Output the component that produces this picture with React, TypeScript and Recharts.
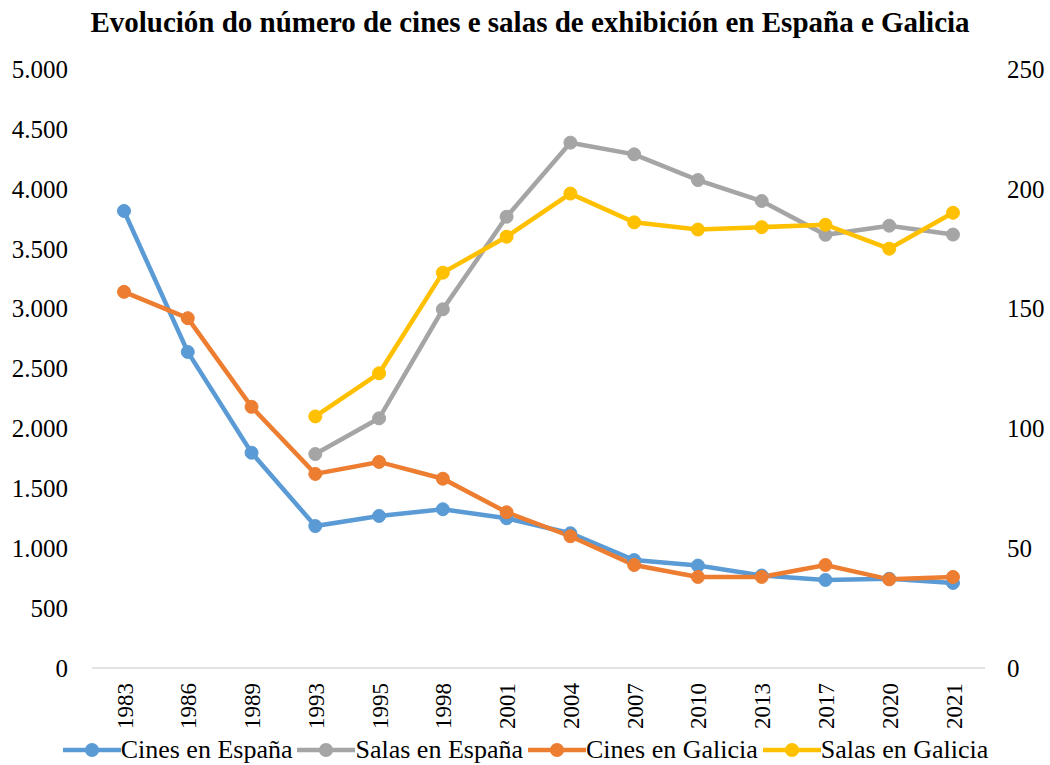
import React from 'react';
import { LineChart, Line, XAxis, YAxis, Legend } from 'recharts';

const years = ['1983', '1986', '1989', '1993', '1995', '1998', '2001', '2004', '2007', '2010', '2013', '2017', '2020', '2021'];
const cinesEspana = [3815, 2638, 1797, 1185, 1269, 1325, 1250, 1125, 901, 855, 772, 735, 745, 710];
const salasEspana = [null, null, null, 1786, 2084, 2994, 3767, 4385, 4288, 4073, 3898, 3616, 3692, 3618];
const cinesGalicia = [157, 146, 109, 81, 86, 79, 65, 55, 43, 38, 38, 43, 37, 38];
const salasGalicia = [null, null, null, 105, 123, 165, 180, 198, 186, 183, 184, 185, 175, 190];

const leftTicks = [0, 500, 1000, 1500, 2000, 2500, 3000, 3500, 4000, 4500, 5000];
const rightTicks = [0, 50, 100, 150, 200, 250];

const seriesInfo = [
  { key: 'cinesEspana', name: 'Cines en España', color: '#5B9BD5', axis: 'left' },
  { key: 'salasEspana', name: 'Salas en España', color: '#A5A5A5', axis: 'left' },
  { key: 'cinesGalicia', name: 'Cines en Galicia', color: '#ED7D31', axis: 'right' },
  { key: 'salasGalicia', name: 'Salas en Galicia', color: '#FFC000', axis: 'right' },
];

const data = years.map((year, i) => ({
  year,
  cinesEspana: cinesEspana[i],
  salasEspana: salasEspana[i],
  cinesGalicia: cinesGalicia[i],
  salasGalicia: salasGalicia[i],
}));

const FONT = '"Liberation Serif", serif';

const formatThousands = (v: number) => v.toLocaleString('de-DE');

function YearTick({ x, y, payload }: any) {
  return (
    <text
      transform={`translate(${x + 1},${y + 7}) rotate(-90)`}
      textAnchor="end"
      dominantBaseline="central"
      fontFamily={FONT}
      fontSize={23}
      fill="#000"
    >
      {payload.value}
    </text>
  );
}

function LegendContent() {
  return (
    <div style={{ display: 'flex', justifyContent: 'center', alignItems: 'center', fontFamily: FONT, fontSize: 26, lineHeight: '28px', color: '#000', marginLeft: 6, marginTop: 6 }}>
      {seriesInfo.map((s) => (
        <div key={s.key} style={{ display: 'flex', alignItems: 'center', marginRight: 5 }}>
          <svg width={58} height={20}>
            <line x1={0} y1={10} x2={58} y2={10} stroke={s.color} strokeWidth={4.5} />
            <circle cx={29} cy={10} r={7} fill={s.color} />
          </svg>
          <span>{s.name}</span>
        </div>
      ))}
    </div>
  );
}

export default function App() {
  return (
    <div style={{ position: 'absolute', left: 0, top: 0, width: 1050, height: 765, background: '#fff' }}>
      <div
        style={{
          position: 'absolute',
          top: 6,
          left: 0,
          width: 1060,
          textAlign: 'center',
          fontFamily: FONT,
          fontWeight: 700,
          fontSize: 29,
          color: '#000',
        }}
      >
        Evolución do número de cines e salas de exhibición en España e Galicia
      </div>
      <LineChart width={1050} height={765} data={data} margin={{ top: 69, right: 0, left: 0, bottom: 0 }}>
        <XAxis
          dataKey="year"
          yAxisId="left"
          height={62}
          padding={{ left: 32, right: 32 }}
          axisLine={{ stroke: '#D9D9D9', strokeWidth: 1.5 }}
          tickLine={false}
          tick={<YearTick />}
          interval={0}
        />
        <YAxis
          yAxisId="left"
          orientation="left"
          width={92}
          domain={[0, 5000]}
          ticks={leftTicks}
          tickFormatter={formatThousands}
          axisLine={false}
          tickLine={false}
          tick={{ fontFamily: FONT, fontSize: 25, fill: '#000' }}
          tickMargin={18}
        />
        <YAxis
          yAxisId="right"
          orientation="right"
          width={65}
          domain={[0, 250]}
          ticks={rightTicks}
          axisLine={false}
          tickLine={false}
          tick={{ fontFamily: FONT, fontSize: 25, fill: '#000' }}
          tickMargin={16}
        />
        <Legend verticalAlign="bottom" height={35} content={<LegendContent />} />
        {seriesInfo.map((s) => (
          <Line
            key={s.key}
            yAxisId={s.axis}
            dataKey={s.key}
            name={s.name}
            stroke={s.color}
            strokeWidth={4.5}
            dot={{ r: 6.5, fill: s.color, stroke: s.color, strokeWidth: 1 }}
            activeDot={false}
            isAnimationActive={false}
          />
        ))}
      </LineChart>
    </div>
  );
}
